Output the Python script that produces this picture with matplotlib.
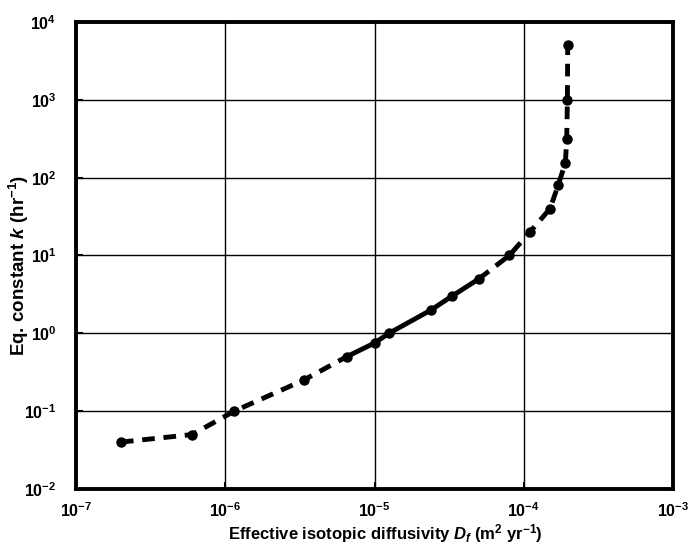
import matplotlib
matplotlib.use("Agg")
import matplotlib.pyplot as plt
import numpy as np

plt.rcParams['font.family'] = ['Liberation Sans', 'DejaVu Sans']
plt.rcParams['font.weight'] = 'bold'
plt.rcParams['mathtext.fontset'] = 'custom'
plt.rcParams['mathtext.rm'] = 'Liberation Sans:bold'
plt.rcParams['mathtext.bf'] = 'Liberation Sans:bold'
plt.rcParams['mathtext.it'] = 'Liberation Sans:bold:italic'
plt.rcParams['mathtext.sf'] = 'Liberation Sans:bold'

# Data
diffusivity = [2.0e-7, 6.0e-7, 1.15e-6, 3.35e-6, 6.5e-6, 1.0e-5, 1.25e-5,
               2.4e-5, 3.3e-5, 5.0e-5, 8.0e-5, 1.1e-4, 1.5e-4, 1.7e-4,
               1.9e-4, 1.94e-4, 1.96e-4, 1.97e-4]
eq_constant = [0.04, 0.05, 0.1, 0.25, 0.5, 0.75, 1.0, 2.0, 3.0, 5.0, 10.0,
               20.0, 40.0, 80.0, 155.0, 310.0, 1000.0, 5000.0]
solid_start = 4   # index of first point of solid segment
solid_end = 9     # index of last point of solid segment

fig = plt.figure(figsize=(6.89, 5.5), dpi=100)
ax = fig.add_axes([0.1103, 0.111, 0.8665, 0.849])

x = np.array(diffusivity)
y = np.array(eq_constant)

lw = 3.5
ax.plot(x[:solid_start + 1], y[:solid_start + 1], color='black', lw=lw,
        ls=(0, (2.6, 1.8)), dash_capstyle='butt')
ax.plot(x[solid_start:solid_end + 1], y[solid_start:solid_end + 1],
        color='black', lw=lw, ls='-')
ax.plot(x[solid_end:], y[solid_end:], color='black', lw=lw,
        ls=(0, (2.6, 1.8)), dash_capstyle='butt')
ax.plot(x, y, ls='none', marker='o', ms=6.5, color='black')

ax.set_xscale('log')
ax.set_yscale('log')
ax.set_xlim(1e-7, 1e-3)
ax.set_ylim(1e-2, 1e4)
ax.set_xticks([1e-7, 1e-6, 1e-5, 1e-4, 1e-3])
ax.set_yticks([1e-2, 1e-1, 1e0, 1e1, 1e2, 1e3, 1e4])
ax.minorticks_off()

ax.grid(True, which='major', color='black', lw=1.0)
ax.set_axisbelow(True)
for s in ax.spines.values():
    s.set_linewidth(2.8)
ax.tick_params(axis='both', which='major', direction='in', length=5,
               width=1.5, labelsize=11.5)
ax.tick_params(axis='x', pad=9)
ax.tick_params(axis='y', pad=14)

ax.set_xlabel(r'Effective isotopic diffusivity $D_f$ (m$^2$ yr$^{-1}$)',
              fontsize=12, fontweight='bold')
ax.xaxis.set_label_coords(0.519, -0.072)
ax.set_ylabel(r'Eq. constant $k$ (hr$^{-1}$)', fontsize=13.5,
              fontweight='bold')
ax.yaxis.set_label_coords(-0.075, 0.4786)

fig.savefig('out.png', dpi=100)
